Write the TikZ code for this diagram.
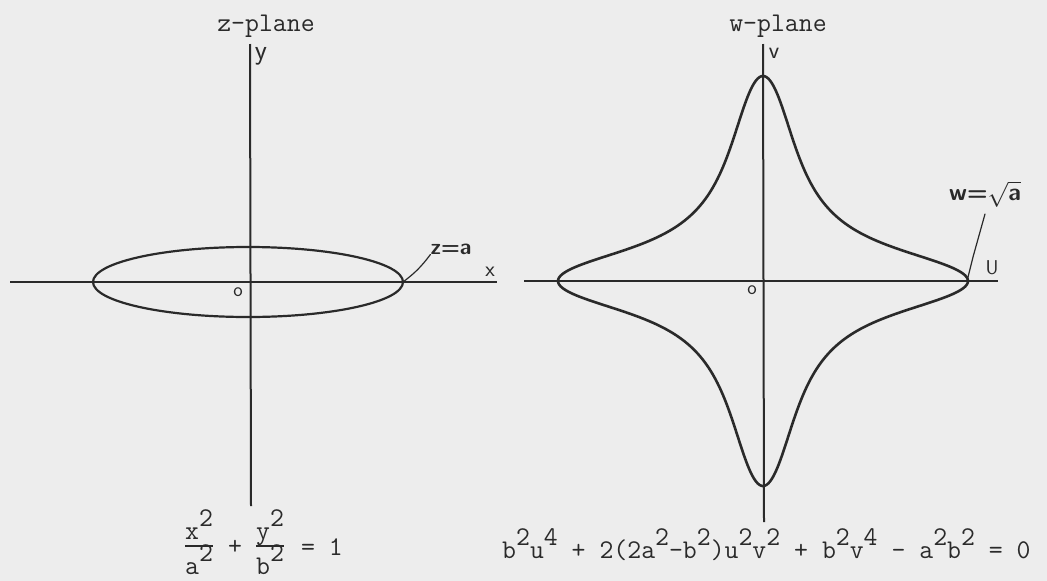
\documentclass[tikz,border=0pt]{standalone}
\definecolor{ink}{HTML}{2A2A2A}
\definecolor{paper}{HTML}{EDEDED}
\tikzset{
  axisline/.style={draw=ink, line width=2pt},
  curveline/.style={draw=ink, line width=2.6pt, line join=round},
  leadline/.style={draw=ink, line width=1.2pt, line cap=round},
  barline/.style={draw=ink, line width=2.2pt},
  tt/.style={text=ink, inner sep=0pt, font=\fontsize{27}{32}\selectfont\ttfamily},
  hand/.style={text=ink, inner sep=0pt, font=\fontsize{22}{26}\selectfont\sffamily},
}
\newcommand{\sups}[1]{\raisebox{0.47em}{#1}}
\def\rr{0.2258}
\begin{document}
\begin{tikzpicture}[x=1pt,y=-1pt]
\useasboundingbox (0,0) rectangle (1047,581);
\fill[paper] (0,0) rectangle (1047,581);

% ---------- z-plane ----------
\node[tt, anchor=base] (zt) at (266,31) {z-plane};
\coordinate (zyt) at (250,44);
\coordinate (zyb) at (251,506);
\coordinate (zxl) at (10,282);
\coordinate (zxr) at (497,282);
\draw[axisline] (zyt) -- (zyb);
\draw[axisline] (zxl) -- (zxr);
\draw[curveline, line width=2.2pt] (248,282) ellipse [x radius=155, y radius=35];
\coordinate (zA) at (403,282);
\node[hand, font=\fontsize{28}{30}\selectfont\sffamily] (ly) at (261,56) {y};
\node[hand] (lx) at (490,272) {x};
\node[hand, font=\fontsize{20}{22}\selectfont\sffamily] (lo1) at (238,292) {o};
\node[hand, font=\fontsize{22}{26}\selectfont\sffamily\bfseries] (lza) at (451,249) {z=a};
\draw[leadline] (lza.south west) to[bend left=8] (zA);

% ---------- w-plane ----------
\node[tt, anchor=base] (wt) at (778,31) {w-plane};
\coordinate (wvt) at (763,44);
\coordinate (wvb) at (764,522);
\coordinate (wul) at (524,281);
\coordinate (wur) at (998,281);
\draw[axisline] (wvt) -- (wvb);
\draw[axisline] (wul) -- (wur);
\draw[curveline]
  plot[domain=-179.5:179.5, samples=360]
   ({763+205*sqrt(sqrt(cos(\x)^2+\rr*\rr*sin(\x)^2))*cos(atan2(\rr*sin(\x),cos(\x))/2)},
    {281+205*sqrt(sqrt(cos(\x)^2+\rr*\rr*sin(\x)^2))*sin(atan2(\rr*sin(\x),cos(\x))/2)})
  -- plot[domain=-179.5:179.5, samples=360]
   ({763-205*sqrt(sqrt(cos(\x)^2+\rr*\rr*sin(\x)^2))*cos(atan2(\rr*sin(\x),cos(\x))/2)},
    {281-205*sqrt(sqrt(cos(\x)^2+\rr*\rr*sin(\x)^2))*sin(atan2(\rr*sin(\x),cos(\x))/2)})
  -- cycle;
\coordinate (wA) at (967,281);
\coordinate (wk) at (973,257);
\node[hand, font=\fontsize{24}{26}\selectfont\sffamily] (lv) at (774,53) {v};
\node[hand, font=\fontsize{20}{22}\selectfont\sffamily] (lu) at (992,268) {U};
\node[hand, font=\fontsize{20}{22}\selectfont\sffamily] (lo2) at (752,290) {o};
\node[hand, font=\fontsize{24}{26}\selectfont\sffamily\bfseries] (lwa) at (985,194) {w=$\sqrt{\mbox{a}}$};
\coordinate (wl) at (985,214);
\draw[leadline] (wl) -- (wk) -- (wA);

% ---------- equations ----------
\node[tt, anchor=base west] (n1) at (185,539) {x\sups{2}};
\node[tt, anchor=base west] (d1) at (185,574) {a\sups{2}};
\draw[barline] (n1.south west |- 0,546) -- (n1.south east |- 0,546);
\node[tt] (plus) at (235,547) {+};
\node[tt, anchor=base west] (n2) at (256,539) {y\sups{2}};
\node[tt, anchor=base west] (d2) at (256,574) {b\sups{2}};
\draw[barline] (n2.south west |- 0,546) -- (n2.south east |- 0,546);
\node[tt, anchor=base west] (eq1) at (301,555) {= 1};

\node[tt, anchor=base west] (eq2) at (502,558)
  {b\sups{2}u\sups{4} + 2(2a\sups{2}-b\sups{2})u\sups{2}v\sups{2} + b\sups{2}v\sups{4} - a\sups{2}b\sups{2} = 0};
\end{tikzpicture}
\end{document}
